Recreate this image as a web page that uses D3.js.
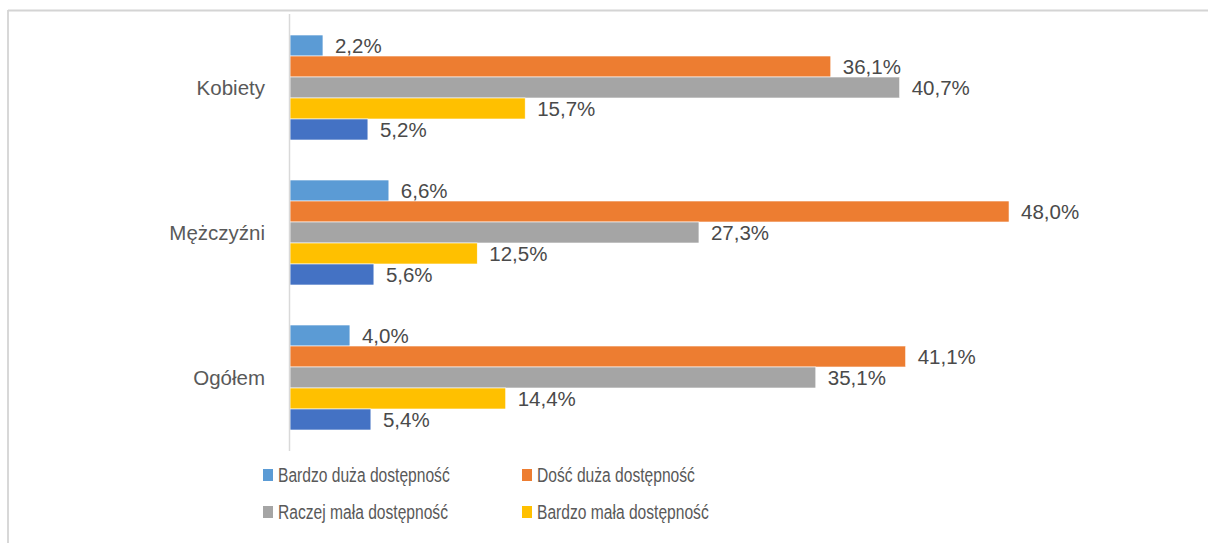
<!DOCTYPE html>
<html>
<head>
<meta charset="utf-8">
<script src="https://cdn.jsdelivr.net/npm/d3@7"></script>
<style>
  html, body { margin: 0; padding: 0; background: #fff; }
  svg { display: block; }
</style>
</head>
<body>
<svg id="chart" width="1208" height="543"></svg>
<script>
const categories = ["Kobiety", "Mężczyźni", "Ogółem"];
const seriesNames = ["Bardzo duża dostępność", "Dość duża dostępność", "Raczej mała dostępność", "Bardzo mała dostępność", "Seria 5"];
const seriesColors = ["#5B9BD5", "#ED7D31", "#A5A5A5", "#FFC000", "#4472C4"];
const bardzoDuza = [2.2, 6.6, 4.0];
const doscDuza = [36.1, 48.0, 41.1];
const raczejMala = [40.7, 27.3, 35.1];
const bardzoMala = [15.7, 12.5, 14.4];
const seria5 = [5.2, 5.6, 5.4];
const legendItems = [0, 1, 2, 3];

const seriesValues = [bardzoDuza, doscDuza, raczejMala, bardzoMala, seria5];

const svg = d3.select("#chart");

// outer frame (top and left edges visible)
svg.append("line").attr("x1", 8).attr("x2", 1208).attr("y1", 10.5).attr("y2", 10.5)
  .attr("stroke", "#d4d4d4").attr("stroke-width", 1.8);
svg.append("line").attr("x1", 8).attr("x2", 8).attr("y1", 10).attr("y2", 543)
  .attr("stroke", "#d4d4d4").attr("stroke-width", 1.8);

const x = d3.scaleLinear().domain([0, 50]).range([290, 1039]);
const y = d3.scaleBand().domain(categories).range([15, 450]).paddingInner(0.276).paddingOuter(0.138);
const ySub = d3.scaleBand().domain(d3.range(seriesNames.length)).range([0, y.bandwidth()]);

const fmt = v => d3.format(".1f")(v).replace(".", ",") + "%";

const rows = [];
categories.forEach((c, ci) => {
  seriesValues.forEach((arr, si) => rows.push({ c, ci, si, v: arr[ci] }));
});

svg.selectAll("rect.bar").data(rows).join("rect")
  .attr("class", "bar")
  .attr("x", x(0))
  .attr("y", d => y(d.c) + ySub(d.si))
  .attr("width", d => x(d.v) - x(0))
  .attr("height", ySub.bandwidth())
  .attr("fill", d => seriesColors[d.si])
  .attr("stroke", "#ffffff").attr("stroke-width", 0.6);

svg.selectAll("text.lbl").data(rows).join("text")
  .attr("class", "lbl")
  .attr("x", d => x(d.v) + 12)
  .attr("y", d => y(d.c) + ySub(d.si) + ySub.bandwidth() / 2)
  .attr("dy", "0.36em")
  .attr("font-family", "Liberation Sans, Arial, sans-serif")
  .attr("font-size", 20.5)
  .attr("fill", "#4a4a4a")
  .text(d => fmt(d.v));

// category axis line
svg.append("line").attr("x1", x(0) - 0.5).attr("x2", x(0) - 0.5).attr("y1", 14).attr("y2", 451)
  .attr("stroke", "#d9d9d9").attr("stroke-width", 1.5);

// category labels
svg.selectAll("text.cat").data(categories).join("text")
  .attr("class", "cat")
  .attr("x", 265)
  .attr("y", d => y(d) + y.bandwidth() / 2)
  .attr("dy", "0.36em")
  .attr("text-anchor", "end")
  .attr("font-family", "Liberation Sans, Arial, sans-serif")
  .attr("font-size", 20.5)
  .attr("fill", "#595959")
  .text(d => d);

// legend
const legPos = [[263, 475], [522, 475], [263, 512], [522, 512]];
const leg = svg.selectAll("g.leg").data(legendItems).join("g")
  .attr("class", "leg")
  .attr("transform", (d, i) => `translate(${legPos[i][0]},${legPos[i][1]})`);
leg.append("rect").attr("x", 0).attr("y", -6).attr("width", 10).attr("height", 12)
  .attr("fill", d => seriesColors[d]);
leg.append("text").attr("x", 15).attr("y", 0).attr("dy", "0.36em")
  .attr("font-family", "Liberation Sans, Arial, sans-serif")
  .attr("font-size", 20)
  .attr("fill", "#595959")
  .text(d => seriesNames[d])
  .each(function () {
    const w = this.getComputedTextLength();
    d3.select(this).attr("textLength", w * 0.78).attr("lengthAdjust", "spacingAndGlyphs");
  });
</script>
</body>
</html>
